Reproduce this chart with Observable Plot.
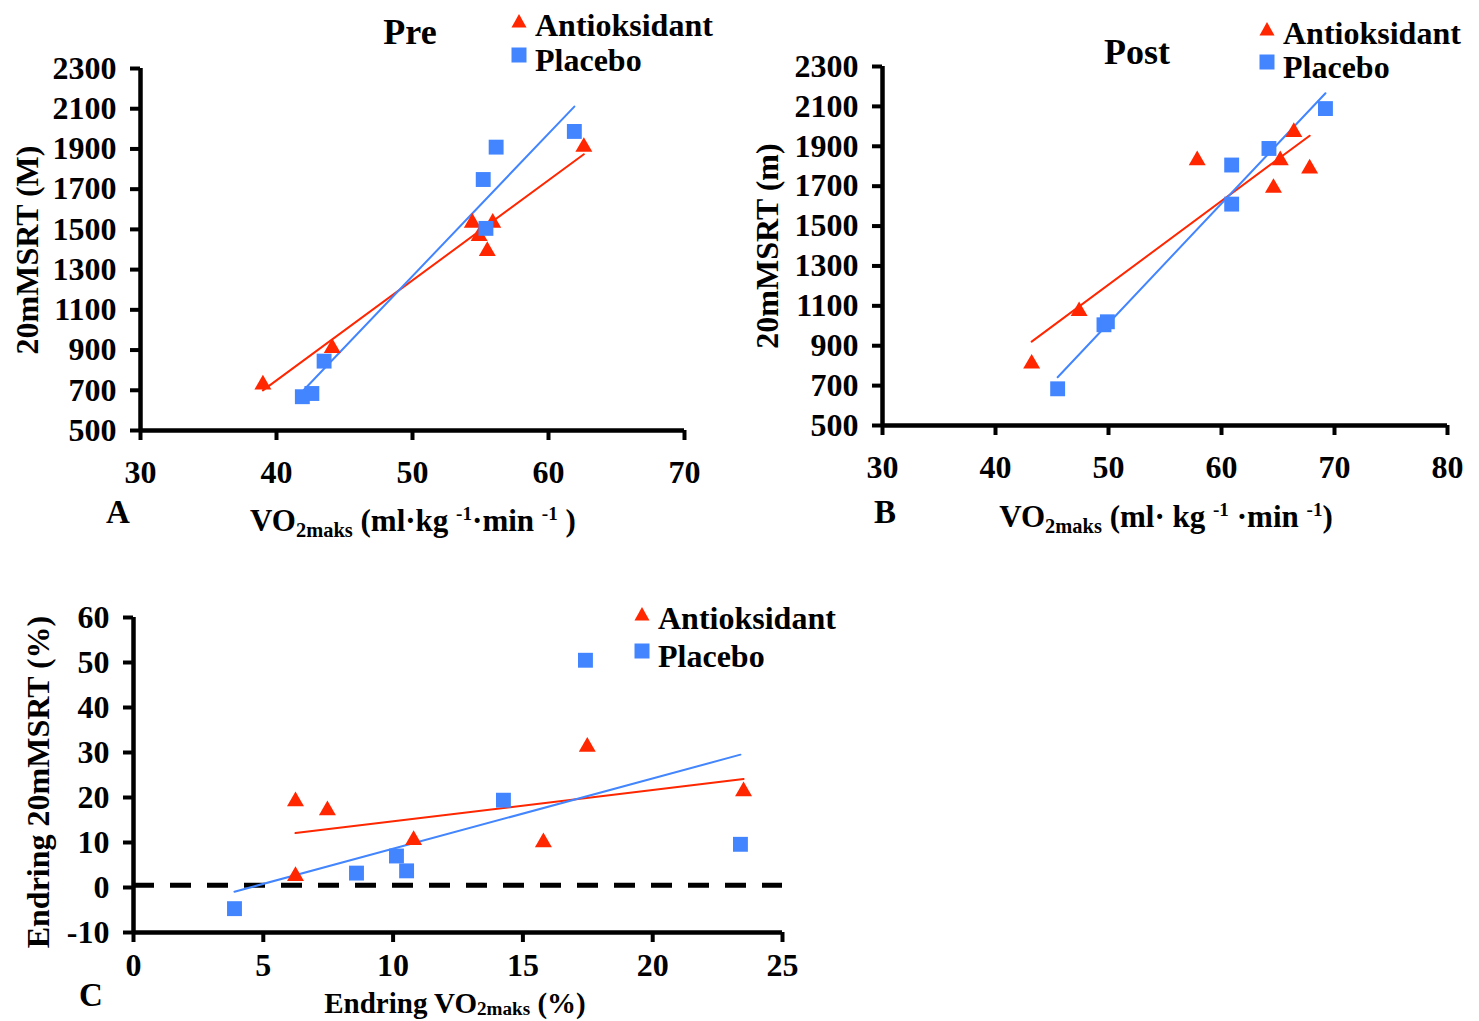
<!DOCTYPE html>
<html>
<head>
<meta charset="utf-8">
<script src="https://cdn.jsdelivr.net/npm/d3@7"></script>
<script src="https://cdn.jsdelivr.net/npm/@observablehq/plot@0.6"></script>
<style>
  html, body { margin: 0; padding: 0; background: #fff; }
  #wrap { position: relative; width: 1479px; height: 1021px; overflow: hidden; font-family: "Liberation Serif", "Times New Roman", serif; font-weight: bold; color: #000; }
  .panel { position: absolute; }
  .txt { position: absolute; white-space: nowrap; line-height: 1; }
  .txt sub { font-size: 0.66em; vertical-align: -0.3em; line-height: 0; }
  .txt sup { font-size: 0.62em; vertical-align: 0.55em; line-height: 0; }
  .txt.low sub { vertical-align: -0.14em; }
</style>
</head>
<body>
<div id="wrap"></div>
<script>
// ---------- data ----------
const red = "#ff2600";
const blue = "#4285ff";

// Panel A (Pre)
const preAntiX = [39.0, 44.1, 54.4, 54.9, 55.5, 55.9, 62.6];
const preAntiY = [738, 920, 1543, 1477, 1402, 1543, 1920];
const prePlaX  = [41.9, 42.6, 43.5, 55.2, 55.4, 56.15, 61.9];
const prePlaY  = [668, 684, 845, 1748, 1505, 1909, 1987];
const xTicksA = [30, 40, 50, 60, 70];
const yTicksAB = [500, 700, 900, 1100, 1300, 1500, 1700, 1900, 2100, 2300];

// Panel B (Post)
const postAntiX = [43.2, 47.4, 57.85, 64.6, 65.2, 66.4, 67.8];
const postAntiY = [820, 1083, 1840, 1701, 1840, 1981, 1798];
const postPlaX  = [45.5, 49.6, 49.9, 60.9, 60.9, 64.2, 69.2];
const postPlaY  = [684, 1005, 1020, 1610, 1806, 1889, 2089];
const xTicksB = [30, 40, 50, 60, 70, 80];

// Panel C (change)
const chAntiX = [6.24, 7.47, 10.79, 6.24, 15.79, 17.48, 23.5];
const chAntiY = [19.6, 17.6, 11.0, 3.0, 10.5, 31.7, 21.8];
const chPlaX  = [3.89, 8.59, 10.13, 10.52, 14.25, 17.41, 23.38];
const chPlaY  = [-4.7, 3.2, 7.0, 3.7, 19.4, 50.5, 9.6];
const xTicksC = [0, 5, 10, 15, 20, 25];
const yTicksC = [-10, 0, 10, 20, 30, 40, 50, 60];
const baselineC = [0.5];

const groups = ["Antioksidant", "Placebo"];

// ---------- helpers ----------
const wrap = document.getElementById("wrap");
const rows = (xs, ys) => xs.map((x, i) => ({x, y: ys[i]}));

function panel(cfg) {
  const anti = rows(cfg.antiX, cfg.antiY);
  const pla = rows(cfg.plaX, cfg.plaY);
  const extra = cfg.baseline ? [Plot.ruleY(cfg.baseline, {strokeWidth: 5, strokeDasharray: "21,16", stroke: "#000"})] : [];
  const chart = Plot.plot({
    width: cfg.width, height: cfg.height,
    marginLeft: cfg.ml, marginRight: cfg.mr, marginTop: cfg.mt, marginBottom: cfg.mb,
    x: {domain: cfg.xDomain},
    y: {domain: cfg.yDomain},
    style: {fontFamily: "Liberation Serif, serif", fontWeight: "bold", fontSize: "32px", background: "transparent", overflow: "visible", color: "#000"},
    marks: [
      Plot.axisY({ticks: cfg.yTicks, tickSize: 10, tickPadding: 14, strokeWidth: 4, label: null, tickFormat: d => String(d)}),
      Plot.axisX({ticks: cfg.xTicks, tickSize: 10, tickPadding: cfg.xPad ?? 20, strokeWidth: 4, label: null, tickFormat: d => String(d)}),
      ...extra,
      Plot.ruleX([cfg.xDomain[0]], {strokeWidth: 4.5, stroke: "#000"}),
      Plot.ruleY([cfg.yDomain[0]], {strokeWidth: 4.5, stroke: "#000"}),
      Plot.linearRegressionY(anti, {x: "x", y: "y", stroke: red, strokeWidth: 2, ci: 0}),
      Plot.linearRegressionY(pla, {x: "x", y: "y", stroke: blue, strokeWidth: 2, ci: 0}),
      Plot.dot(anti, {x: "x", y: "y", symbol: "triangle", r: 6.3, fill: red, stroke: "none", dy: 2}),
      Plot.dot(pla, {x: "x", y: "y", symbol: "square", r: 8.4, fill: blue, stroke: "none"})
    ]
  });
  chart.classList.add("panel");
  chart.style.left = cfg.left + "px";
  chart.style.top = cfg.top + "px";
  wrap.appendChild(chart);
}

function text(html, x, y, size, anchor = "center", cls = "") {
  const d = document.createElement("div");
  d.className = "txt " + cls;
  d.innerHTML = html;
  d.style.fontSize = size + "px";
  d.style.left = x + "px";
  d.style.top = y + "px";
  const tx = anchor === "center" ? "-50%" : "0";
  d.style.transform = `translate(${tx}, -50%)`;
  wrap.appendChild(d);
}

function rotText(html, cx, cy, size) {
  const d = document.createElement("div");
  d.className = "txt";
  d.innerHTML = html;
  d.style.fontSize = size + "px";
  d.style.left = cx + "px";
  d.style.top = cy + "px";
  d.style.transform = "translate(-50%, -50%) rotate(-90deg)";
  wrap.appendChild(d);
}

function legend(x, y1, y2, tx) {
  const ns = "http://www.w3.org/2000/svg";
  const mk = (cx, cy, kind) => {
    const s = document.createElementNS(ns, "svg");
    s.setAttribute("width", 18); s.setAttribute("height", 18);
    s.style.position = "absolute";
    s.style.left = (cx - 9) + "px"; s.style.top = (cy - 9) + "px";
    const p = document.createElementNS(ns, kind === "tri" ? "polygon" : "rect");
    if (kind === "tri") { p.setAttribute("points", "9,2 16.5,15.5 1.5,15.5"); p.setAttribute("fill", red); }
    else { p.setAttribute("x", 1.5); p.setAttribute("y", 1.5); p.setAttribute("width", 15); p.setAttribute("height", 15); p.setAttribute("fill", blue); }
    s.appendChild(p);
    wrap.appendChild(s);
  };
  mk(x, y1, "tri");
  mk(x, y2, "sq");
  text(groups[0], tx, y1 + 4, 32, "left");
  text(groups[1], tx, y2 + 5, 32, "left");
}

// ---------- panels ----------
panel({antiX: preAntiX, antiY: preAntiY, plaX: prePlaX, plaY: prePlaY,
  xDomain: [30, 70], yDomain: [500, 2300], xTicks: xTicksA, yTicks: yTicksAB,
  left: 0, top: 0, width: 740, height: 540, ml: 140, mr: 56, mt: 68, mb: 110});

panel({antiX: postAntiX, antiY: postAntiY, plaX: postPlaX, plaY: postPlaY,
  xDomain: [30, 80], yDomain: [500, 2300], xTicks: xTicksB, yTicks: yTicksAB,
  left: 740, top: 0, width: 739, height: 540, ml: 142, mr: 32, mt: 66, mb: 115});

panel({antiX: chAntiX, antiY: chAntiY, plaX: chPlaX, plaY: chPlaY,
  xDomain: [0, 25], yDomain: [-10, 60], xTicks: xTicksC, yTicks: yTicksC, baseline: baselineC,
  left: 0, top: 580, width: 850, height: 441, ml: 133, mr: 68, mt: 37, mb: 89, xPad: 11});

// ---------- titles, labels, legends ----------
text("Pre", 410, 32, 36);
text("Post", 1137, 52, 36);

legend(519, 21, 55, 535);
legend(1267, 29, 62, 1283);
legend(642, 614, 651, 658);

rotText("20mMSRT (M)", 27, 250, 32);
rotText("20mMSRT (m)", 767, 246, 32);
rotText("Endring 20mMSRT (%)", 38, 782, 32);

text("A", 118, 512, 33);
text("B", 885, 512, 33);
text("C", 91, 995, 33);

text('VO<sub>2maks</sub> (ml·kg <sup>-1</sup>·min <sup>-1</sup> )', 413, 520, 31);
text('VO<sub>2maks</sub> (ml· kg <sup>-1</sup> ·min <sup>-1</sup>)', 1166, 516, 31);
text('Endring VO<sub>2maks</sub> (%)', 455, 1003, 29, "center", "low");
</script>
</body>
</html>
